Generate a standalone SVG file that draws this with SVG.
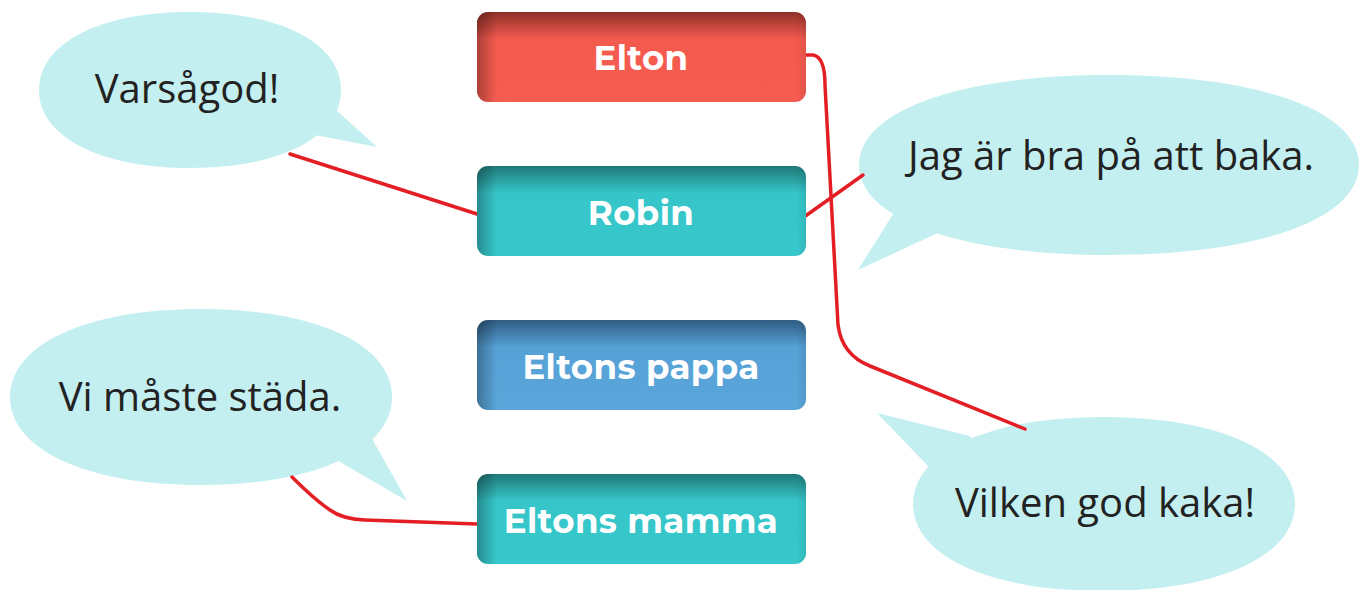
<svg xmlns="http://www.w3.org/2000/svg" width="1359" height="590" viewBox="0 0 1359 590">
<style>
.bubble{fill:#C4EFF0}
.btxt{font-family:"Open Sans","Noto Sans",sans-serif;font-size:40px;fill:#222222;text-anchor:middle}
.ntxt{font-family:"Montserrat","Open Sans","Noto Sans",sans-serif;font-weight:bold;font-size:34px;letter-spacing:0.4px;fill:#ffffff;text-anchor:middle}
.conn{fill:none;stroke:#E31E24;stroke-width:3.5;stroke-linecap:round;stroke-linejoin:round}
</style>
<defs>
<linearGradient id="gRed" x1="0" y1="0" x2="0" y2="1">
<stop offset="0" stop-color="#8E3029"/><stop offset="0.3" stop-color="#F45A4E"/><stop offset="1" stop-color="#F65C50"/>
</linearGradient>
<linearGradient id="gTeal" x1="0" y1="0" x2="0" y2="1">
<stop offset="0" stop-color="#1F7877"/><stop offset="0.3" stop-color="#36C6CA"/><stop offset="1" stop-color="#37C8CC"/>
</linearGradient>
<linearGradient id="gBlue" x1="0" y1="0" x2="0" y2="1">
<stop offset="0" stop-color="#2F5C83"/><stop offset="0.3" stop-color="#56A1D6"/><stop offset="1" stop-color="#5AA6DA"/>
</linearGradient>
<linearGradient id="gLeft" x1="0" y1="0" x2="1" y2="0">
<stop offset="0" stop-color="#000" stop-opacity="0.3"/><stop offset="0.06" stop-color="#000" stop-opacity="0"/><stop offset="0.97" stop-color="#000" stop-opacity="0"/><stop offset="1" stop-color="#000" stop-opacity="0.08"/>
</linearGradient>
</defs>

<g id="bubble-varsagod">
<path class="bubble" d="M39,90 C39,43.2 99.4,12 190,12 C280.6,12 341,43.2 341,90 C341,136.8 280.6,168 190,168 C99.4,168 39,136.8 39,90Z"/>
<polygon class="bubble" points="325,100 377,147 315,135 300,120"/>
<text class="btxt" x="187" y="103">Varsågod!</text>
</g>
<g id="bubble-vimaste">
<path class="bubble" d="M10,397 C10,344.2 86.4,309 201,309 C315.6,309 392,344.2 392,397 C392,449.8 315.6,485 201,485 C86.4,485 10,449.8 10,397Z"/>
<polygon class="bubble" points="370,435 407,501 340,462 330,440"/>
<text class="btxt" x="200" y="411">Vi måste städa.</text>
</g>
<g id="bubble-jag">
<path class="bubble" d="M859,165 C859,111 959,75 1109,75 C1259,75 1359,111 1359,165 C1359,219 1259,255 1109,255 C959,255 859,219 859,165Z"/>
<polygon class="bubble" points="905,195 858,270 940,232 950,210"/>
<text class="btxt" x="1111" y="170">Jag är bra på att baka.</text>
</g>
<g id="bubble-vilken">
<path class="bubble" d="M913,504 C913,451.8 989.4,417 1104,417 C1218.6,417 1295,451.8 1295,504 C1295,556.2 1218.6,591 1104,591 C989.4,591 913,556.2 913,504Z"/>
<polygon class="bubble" points="877,413 970,436 990,470 928,466"/>
<text class="btxt" x="1105" y="517">Vilken god kaka!</text>
</g>

<g id="connectors">
<path class="conn" d="M290,154 L477,214"/>
<path class="conn" d="M804,217 L863,175"/>
<path class="conn" d="M806,55 L813,55 Q825,57 825,85 L838,325 Q842,355 870,366 L1025,429"/>
<path class="conn" d="M292,477 Q315,500 330,510 Q342,519 365,520 L477,524"/>
</g>

<g id="node-elton">
<rect x="477" y="12" width="329" height="90" rx="11" fill="url(#gRed)"/>
<rect x="477" y="12" width="329" height="90" rx="11" fill="url(#gLeft)"/>
<text class="ntxt" x="641" y="70">Elton</text>
</g>
<g id="node-robin">
<rect x="477" y="166" width="329" height="90" rx="11" fill="url(#gTeal)"/>
<rect x="477" y="166" width="329" height="90" rx="11" fill="url(#gLeft)"/>
<text class="ntxt" x="641" y="225">Robin</text>
</g>
<g id="node-pappa">
<rect x="477" y="320" width="329" height="90" rx="11" fill="url(#gBlue)"/>
<rect x="477" y="320" width="329" height="90" rx="11" fill="url(#gLeft)"/>
<text class="ntxt" x="641" y="379">Eltons pappa</text>
</g>
<g id="node-mamma">
<rect x="477" y="474" width="329" height="90" rx="11" fill="url(#gTeal)"/>
<rect x="477" y="474" width="329" height="90" rx="11" fill="url(#gLeft)"/>
<text class="ntxt" x="641" y="533">Eltons mamma</text>
</g>
</svg>
